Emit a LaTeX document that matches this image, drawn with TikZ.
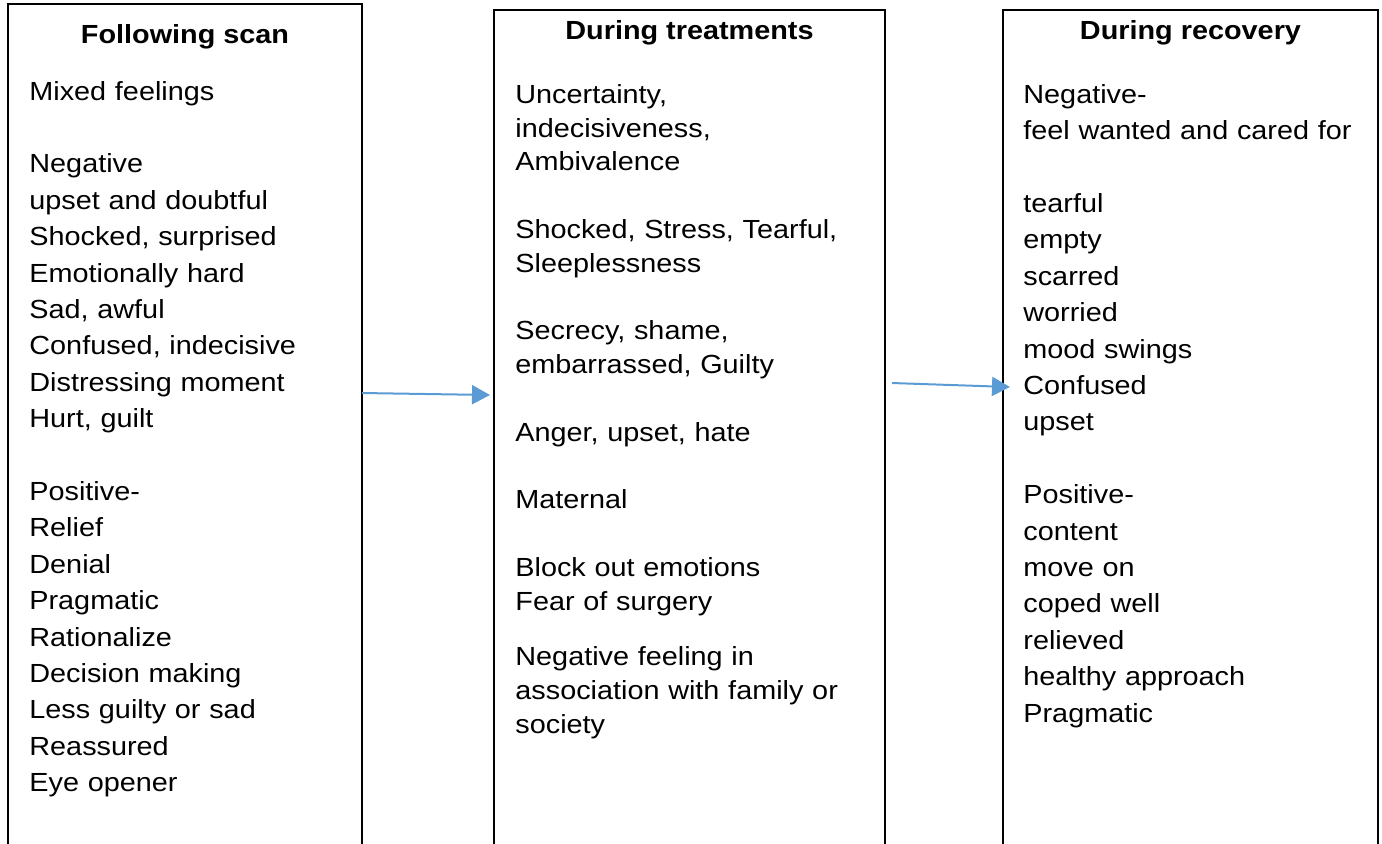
\documentclass[tikz,border=0pt]{standalone}
\usepackage{fontspec}
\setmainfont{Liberation Sans}[FakeStretch=1.1]
\usepackage{xcolor}
\usepackage{tikz}
\usetikzlibrary{positioning,arrows.meta}
\definecolor{flowblue}{HTML}{5B9BD5}

\begin{document}
\begin{tikzpicture}[x=0.5pt, y=-0.5pt,
    box/.style={draw, line width=1pt, rectangle, anchor=north west, outer sep=0pt, minimum height=460pt},
    head/.style={anchor=base, inner sep=0pt, font=\bfseries\fontsize{13.1pt}{18.2pt}\selectfont},
    body/.style={anchor=base west, inner sep=0pt, align=left, text width=175pt, font=\fontsize{13.1pt}{18.2pt}\selectfont},
    flow/.style={draw=flowblue, line width=1pt, -{Triangle[length=9pt, width=9.5pt]}}]
    \useasboundingbox (0,0) rectangle (1382,843);
    \clip (0,0) rectangle (1382,843);

    % the three stages
    \node [box, minimum width=177pt] (scan) at (8,4) {};
    \node [box, minimum width=195.5pt] (treat) at (494,10) {};
    \node [box, minimum width=187.5pt] (recov) at (1003,10) {};

    \node [head] (scanhead) at (185,43) {Following scan};
    \node [head] (treathead) at (689.5,39.5) {During treatments};
    \node [head] (recovhead) at (1190.5,39.5) {During recovery};

    \node [body] (scanbody) at (29,100) {Mixed feelings\\[18.2pt]
        Negative\\ upset and doubtful\\ Shocked, surprised\\ Emotionally hard\\ Sad, awful\\
        Confused, indecisive\\ Distressing moment\\ Hurt, guilt\\[18.2pt]
        Positive-\\ Relief\\ Denial\\ Pragmatic\\ Rationalize\\ Decision making\\
        Less guilty or sad\\ Reassured\\ Eye opener};

    \node [body, text width=185pt, font=\fontsize{13.1pt}{16.9pt}\selectfont] (treatbody) at (515,103.3) {Uncertainty,\\ indecisiveness,\\ Ambivalence\\[16.9pt]
        Shocked, Stress, Tearful,\\ Sleeplessness\\[16.9pt]
        Secrecy, shame,\\ embarrassed, Guilty\\[16.9pt]
        Anger, upset, hate\\[16.9pt]
        Maternal\\[16.9pt]
        Block out emotions\\ Fear of surgery\\[10.9pt]
        Negative feeling in\\ association with family or\\ society};

    \node [body] (recovbody) at (1023,103.3) {Negative-\\ feel wanted and cared for\\[18.2pt]
        tearful\\ empty\\ scarred\\ worried\\ mood swings\\ Confused\\ upset\\[18.2pt]
        Positive-\\ content\\ move on\\ coped well\\ relieved\\ healthy approach\\ Pragmatic};

    % arrows between the stages
    \coordinate (treatin) at (490,395);
    \coordinate (treatout) at (892,383);
    \coordinate (recovin) at (1010,387);
    \draw [flow] (scan.east |- 0,393) -- (treatin);
    \draw [flow] (treatout) -- (recovin);
\end{tikzpicture}
\end{document}
